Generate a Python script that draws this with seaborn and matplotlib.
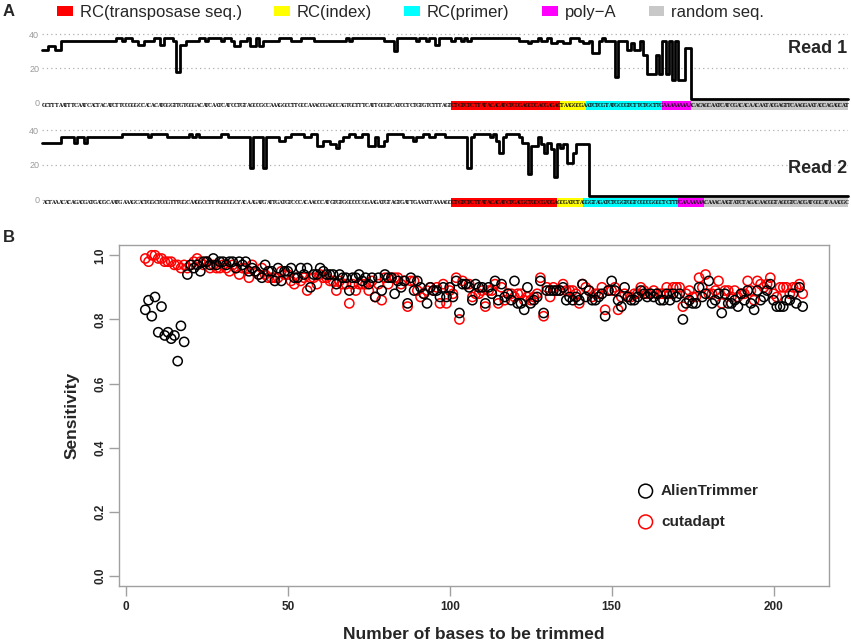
import numpy as np
import pandas as pd
import matplotlib
matplotlib.use("Agg")
import matplotlib.pyplot as plt
from matplotlib.patches import Patch, Rectangle
import seaborn as sns

sns.set_style("white")
plt.rcParams["font.family"] = ["Liberation Sans", "DejaVu Sans"]

# ---------------- data: panel A ----------------
segment_names = ["RC(transposase seq.)", "RC(index)", "RC(primer)", "poly\u2212A", "random seq."]
segment_colors = ["#FF0000", "#FFFF00", "#00FFFF", "#FF00FF", "#C8C8C8"]

read1_prefix = ("GCTTTAATTTCAATCACTACATCTTCCGGGCCACACATGGGTTGTGGGACATCAATCAT"
                "CCTGTAGCCGCCAAAGGCCTTGCCAAACCGAGCCAGTGCTTTCATTGCGTCATCCTCTGTGTCTTTAGT")
read1_segments = ["CTGTCTCTTATACACATCTCCGAGCCCACGAGAC", "TAAGGCGA",
                  "ATCTCGTATGCCGTCTTCTGCTTG", "AAAAAAAAA",
                  "CACAGCAATCATCGACACAACAATACGAGTTCAAGGAATACCAGAGCAT"]
read2_prefix = ("ACTAAACACAGACGATGACGCAATGAAAGCACTGGCTCGGTTTGGCAAGGCCTTTGGCGG"
                "CTACAAGATGATTGATGTCCCACAACCCATGTGTGGCCCCGGAAGATGTAGTGATTGAAATTAAAAGC")
read2_segments = ["CTGTCTCTTATACACATCTGACGCTGCCGACGA", "GCGATCTA",
                  "GGGTAGATCTCGGTGGTCGCCGGGCTCTTT", "CAAAAAAA",
                  "CAAACAAGTATCTAGACAACGGTAGCGTCACGATGGCATAAACGC"]

# per-base quality (run-length: value, number of bases)
read1_q_vals = [31, 33, 31, 36, 38, 36, 38, 36, 34, 36, 38, 34, 38, 36, 18, 34, 36, 38, 36, 38, 36, 38, 36, 33,
                36, 38, 33, 38, 33, 36, 38, 36, 38, 36, 38, 36, 38, 36, 30, 38, 36, 38, 36, 38, 34, 38,
                36, 38, 36, 38, 36, 38, 36, 35, 36, 38, 36, 38, 35, 36, 35, 38, 36, 35, 36, 29, 36, 38, 36,
                15, 36, 31, 35, 31, 36, 28, 17, 28, 17, 36, 17, 36, 13, 36, 13, 32, 2]
read1_q_lens = [2, 2, 2, 17, 2, 1, 2, 2, 2, 3, 2, 1, 3, 1, 1, 2, 4, 2, 1, 4, 1, 2, 1, 2,
                2, 1, 2, 1, 1, 5, 4, 3, 4, 10, 1, 1, 10, 3, 1, 6, 1, 2, 1, 2, 1, 4,
                1, 2, 1, 1, 1, 15, 3, 1, 2, 1, 2, 1, 2, 2, 2, 3, 1, 2, 1, 2, 1, 1, 3,
                1, 3, 1, 1, 2, 1, 1, 3, 1, 1, 1, 1, 1, 1, 1, 2, 2, 49]
read2_q_vals = [33, 36, 33, 36, 33, 36, 38, 36, 38, 36, 38, 36, 38, 36, 38, 36, 18, 36, 18, 36, 34, 36, 38,
                36, 38, 31, 34, 32, 30, 34, 36, 38, 36, 38, 31, 36, 31, 34, 38, 36, 34, 36, 38, 36, 38, 36,
                36, 18, 36, 38, 36, 38, 34, 27, 36, 38, 36, 33, 15, 31, 36, 32, 27, 33, 29, 13, 32, 30, 32,
                21, 27, 32, 2]
read2_q_lens = [6, 4, 1, 2, 1, 11, 8, 1, 5, 7, 1, 1, 1, 7, 2, 7, 1, 3, 1, 4, 2, 2, 4,
                2, 2, 2, 2, 2, 1, 1, 2, 2, 2, 2, 2, 1, 2, 1, 5, 3, 1, 2, 2, 2, 3, 2,
                5, 1, 1, 5, 1, 1, 1, 1, 1, 4, 1, 2, 1, 2, 1, 1, 1, 1, 1, 1, 1, 1, 1,
                2, 1, 4, 81]

# ---------------- data: panel B ----------------
bases_trimmed = list(range(6, 210))
alien = [.83, .86, .81, .87, .76, .84, .75, .76, .74, .75, .67, .78, .73, .94,
         .97, .96, .97, .95, .98, .98, .97, .99, .97, .98, .98, .97, .98, .98, .96, .98, .97, .98, .95, .96,
         .95, .94, .93, .97, .95, .95, .92,
         .96, .92, .95, .95, .96, .93, .93, .96, .94, .96,
         .90, .94, .94, .96, .95, .94, .94, .94, .91, .94,
         .93, .93, .89, .93, .93, .94, .92, .93, .91, .93,
         .87, .93, .89, .94, .93, .93, .88, .92, .90, .92,
         .85, .93, .89, .92, .90, .88, .85, .90, .89, .89,
         .87, .90, .87, .90, .87, .92, .82, .91, .91, .90,
         .86, .91, .90, .90, .85, .90, .88, .92, .86, .91,
         .87, .88, .86, .92, .85, .85, .83, .90, .85, .86,
         .87, .92, .82, .89, .89, .89, .89, .89, .90, .86,
         .87,
         .86, .87, .86, .91, .87, .89, .86, .86, .87, .88,
         .81, .89, .92, .89, .86, .84, .90, .87, .86, .86,
         .87, .89, .88, .87, .88, .87, .88, .86, .86, .88,
         .86, .88, .87, .88, .80, .85, .86, .85, .85, .90,
         .87, .88, .92, .85, .86, .88, .82, .88, .85, .85,
         .86, .84, .88, .86, .89, .85, .83, .89, .86, .87,
         .89, .91, .86, .84, .84, .84, .86, .86, .88, .85,
         .90, .84]
cutadapt = [.99, .98, 1.0, 1.0, .99, .99, .98, .98, .98, .97,
            .97, .96, .97, .96, .97, .98, .99, .98, .97, .98,
            .96, .97, .96, .96, .97, .96, .95, .97, .96, .94,
            .96, .96, .93, .97, .95, .94, .96, .94, .93, .93,
            .93,
            .93, .95, .94, .94, .92, .91, .93, .92, .93, .89,
            .93, .93, .91, .94, .93, .93, .92, .92, .89, .92,
            .91, .91, .85, .91, .89, .91, .91, .91, .89, .92,
            .87, .91, .86, .93, .91, .93, .93, .93, .91, .92,
            .84, .92, .92, .89, .87, .88, .89, .90, .89, .90,
            .85, .91, .85, .89, .88, .93, .80, .92, .91, .91,
            .87, .88, .88, .89, .84, .89, .89, .91, .85, .90,
            .86, .88, .88, .87, .88, .88, .86, .87, .86, .87,
            .88, .93, .81, .90, .87, .90, .89, .89, .91, .89,
            .89,
            .89, .88, .85, .91, .90, .89, .87, .88, .88, .90,
            .83, .89, .89, .90, .83, .87, .88, .87, .87, .88,
            .88, .90, .89, .88, .88, .89, .88, .88, .88, .90,
            .88, .90, .90, .90, .84, .88, .89, .87, .87, .93,
            .90, .94, .88, .88, .89, .92, .85, .89, .89, .87,
            .89, .87, .88, .88, .92, .89, .86, .92, .91, .90,
            .91, .93, .88, .87, .90, .90, .90, .88, .90, .90,
            .91, .88]
tool_names = ["AlienTrimmer", "cutadapt"]
tool_colors = ["black", "red"]

# ---------------- figure ----------------
W, H = 851, 643
fig = plt.figure(figsize=(W / 100, H / 100), dpi=100)


def fx(px):
    return px / W


def fy(py):
    return 1 - py / H


def read_axes(y0_px, y40_px):
    ppu = (y0_px - y40_px) / 40.0
    bottom_px = y0_px + ppu
    top_px = y40_px - ppu
    ax = fig.add_axes([fx(42), fy(bottom_px), fx(848) - fx(42), (bottom_px - top_px) / H])
    ax.set_ylim(-1, 41)
    return ax


def draw_read(ax, prefix, segments, qv, ql, label, label_y):
    seq = prefix + "".join(segments)
    n = len(seq)
    q = np.repeat(qv, ql)
    pos = np.arange(len(q) + 1)
    qq = np.append(q, q[-1])
    ax.set_xlim(0, n)
    ax.set_yticks([0, 20, 40])
    ax.set_xticks([])
    for yv in [0, 20, 40]:
        ax.axhline(yv, color="#b0b0b0", lw=0.9, ls=(0, (1, 2.5)), zorder=0)
    sns.lineplot(x=pos, y=qq, drawstyle="steps-post", color="black", lw=2.0, ax=ax,
                 zorder=3, clip_on=False)
    start = len(prefix)
    for s, c in zip(segments, segment_colors):
        ax.add_patch(Rectangle((start, -4.6), len(s), 5.3, facecolor=c, edgecolor="none",
                               clip_on=False, zorder=1))
        start += len(s)
    for i, ch in enumerate(seq):
        ax.text(i + 0.5, -1.95, ch, ha="center", va="center", fontsize=3.6,
                family="DejaVu Serif", weight="bold", color="#101010", clip_on=False, zorder=2)
    for sp in ax.spines.values():
        sp.set_visible(False)
    ax.tick_params(axis="y", length=0, pad=2, labelsize=6.5, labelcolor="#9a9a9a")
    ax.set_ylabel("")
    ax.set_xlabel("")
    ax.patch.set_alpha(0)
    fig.text(fx(847), fy(label_y), label, ha="right", va="center", fontsize=13, weight="bold")


ax1 = read_axes(102.5, 34.3)
draw_read(ax1, read1_prefix, read1_segments, read1_q_vals, read1_q_lens, "Read 1", 48.5)
ax2 = read_axes(199.5, 130.5)
draw_read(ax2, read2_prefix, read2_segments, read2_q_vals, read2_q_lens, "Read 2", 168.5)

handles = [Patch(facecolor=c, edgecolor="none", label=n) for n, c in zip(segment_names, segment_colors)]
fig.legend(handles=handles, loc="center left", bbox_to_anchor=(fx(57), fy(12)), ncol=5,
           frameon=False, fontsize=12, handlelength=0.95, handleheight=0.55, handletextpad=0.4,
           columnspacing=1.95, borderpad=0, borderaxespad=0)

fig.text(fx(3), fy(12), "A", fontsize=12, weight="bold", va="center", ha="left")
fig.text(fx(3), fy(237), "B", fontsize=12, weight="bold", va="center", ha="left")

# ---------------- panel B ----------------
axB = fig.add_axes([fx(119), fy(586), fx(829) - fx(119), (586 - 245) / H])
df = pd.DataFrame({"x": bases_trimmed * 2,
                   "y": alien + cutadapt,
                   "tool": [tool_names[0]] * len(alien) + [tool_names[1]] * len(cutadapt)})
for name, col in zip(tool_names[::-1], tool_colors[::-1]):
    sub = df[df["tool"] == name]
    sns.scatterplot(data=sub, x="x", y="y", ax=axB, marker="o", s=44, color=col,
                    facecolor="none", edgecolor=col, linewidth=1.1, label=name, legend=False)
axB.set_xlim(-2.12, 217.12)
axB.set_ylim(-0.031, 1.032)
axB.set_xticks([0, 50, 100, 150, 200])
axB.set_yticks([0.0, 0.2, 0.4, 0.6, 0.8, 1.0])
axB.set_yticklabels(["0.0", "0.2", "0.4", "0.6", "0.8", "1.0"])
for sp in axB.spines.values():
    sp.set_visible(True)
    sp.set_color("#a0a0a0")
    sp.set_linewidth(1.0)
axB.tick_params(axis="both", direction="out", length=7, width=1, color="#a0a0a0",
                labelsize=8.5, bottom=True, left=True)
axB.tick_params(axis="y", labelrotation=90, pad=2)
axB.tick_params(axis="x", pad=8)
for lab in axB.get_xticklabels() + axB.get_yticklabels():
    lab.set_fontweight("bold")
    lab.set_va("center")
axB.set_xlabel("Number of bases to be trimmed", fontsize=12.5, weight="bold")
axB.set_ylabel("Sensitivity", fontsize=12.5, weight="bold")
axB.xaxis.set_label_coords(0.5, -(627 - 586) / 341)
axB.yaxis.set_label_coords(-(119 - 80) / 710, 0.5)
axB.grid(False)

h, l = axB.get_legend_handles_labels()
order = [l.index(n) for n in tool_names]
axB.legend([h[i] for i in order], [l[i] for i in order], loc="center left",
           bbox_to_anchor=((638 - 119) / 710, (586 - 506.5) / 341), frameon=False,
           prop={"weight": "bold", "size": 11}, markerscale=1.5,
           handlelength=1.0, handletextpad=0.5, labelspacing=1.1, borderpad=0, borderaxespad=0)

fig.savefig("out.png", dpi=100)
